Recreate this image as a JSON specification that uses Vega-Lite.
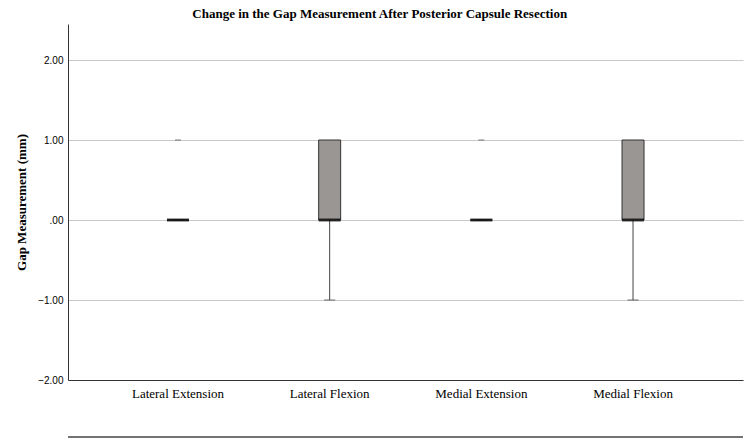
{
  "$schema": "https://vega.github.io/schema/vega-lite/v6.json",
  "width": 675,
  "height": 356,
  "autosize": "none",
  "padding": {"left": 68, "top": 24, "right": 7, "bottom": 61},
  "background": "white",
  "title": {
    "text": "Change in the Gap Measurement After Posterior Capsule Resection",
    "font": "Liberation Serif",
    "fontSize": 13,
    "fontWeight": "bold",
    "color": "#000000",
    "anchor": "middle",
    "frame": "bounds",
    "offset": 3
  },
  "config": {
    "view": {"stroke": null},
    "axis": {"labelColor": "#000000", "titleColor": "#000000"}
  },
  "datasets": {
    "boxes": [
      {"group": "Lateral Extension", "min": 0, "q1": 0, "median": 0, "q3": 0, "max": 0},
      {"group": "Lateral Flexion", "min": -1, "q1": 0, "median": 0, "q3": 1, "max": 1},
      {"group": "Medial Extension", "min": 0, "q1": 0, "median": 0, "q3": 0, "max": 0},
      {"group": "Medial Flexion", "min": -1, "q1": 0, "median": 0, "q3": 1, "max": 1}
    ],
    "outliers": [
      {"group": "Lateral Extension", "value": 1},
      {"group": "Medial Extension", "value": 1}
    ],
    "frame": [{"value": -2.7125}]
  },
  "layer": [
    {
      "data": {"name": "boxes"},
      "mark": {"type": "rule", "color": "#444444", "strokeWidth": 1},
      "encoding": {
        "x": {
          "field": "group", "type": "nominal", "sort": null,
          "scale": {"type": "band", "paddingInner": 0.5, "paddingOuter": 0.475},
          "axis": {
            "title": null, "labelAngle": 0, "ticks": false, "labelPadding": 7,
            "labelFont": "Liberation Serif", "labelFontSize": 13,
            "domainColor": "#333333", "domainWidth": 1, "grid": false
          }
        },
        "y": {
          "field": "min", "type": "quantitative",
          "scale": {"domain": [-2, 2.45], "nice": false, "zero": false},
          "axis": {
            "title": "Gap Measurement (mm)",
            "titleFont": "Liberation Serif", "titleFontSize": 13, "titleFontWeight": "bold",
            "titlePadding": 9,
            "values": [-2, -1, 0, 1, 2],
            "labelExpr": "datum.value == 0 ? '.00' : format(datum.value, '.2f')",
            "labelFont": "Liberation Sans", "labelFontSize": 10, "labelPadding": 5,
            "ticks": false, "domainColor": "#333333", "domainWidth": 1,
            "grid": true, "gridColor": "#c8c8c8", "gridWidth": 1
          }
        },
        "y2": {"field": "q1"}
      }
    },
    {
      "data": {"name": "boxes"},
      "mark": {"type": "tick", "color": "#333333", "thickness": 1, "size": 11, "orient": "horizontal"},
      "encoding": {
        "x": {"field": "group", "type": "nominal", "sort": null},
        "y": {"field": "min", "type": "quantitative"}
      }
    },
    {
      "data": {"name": "boxes"},
      "mark": {"type": "bar", "width": 22, "fill": "#9a9693", "stroke": "#333333", "strokeWidth": 1},
      "encoding": {
        "x": {"field": "group", "type": "nominal", "sort": null},
        "y": {"field": "q1", "type": "quantitative"},
        "y2": {"field": "q3"}
      }
    },
    {
      "data": {"name": "boxes"},
      "mark": {"type": "tick", "color": "#000000", "thickness": 3, "size": 22, "orient": "horizontal"},
      "encoding": {
        "x": {"field": "group", "type": "nominal", "sort": null},
        "y": {"field": "median", "type": "quantitative"}
      }
    },
    {
      "data": {"name": "outliers"},
      "mark": {"type": "tick", "color": "#444444", "thickness": 1, "size": 6, "orient": "horizontal"},
      "encoding": {
        "x": {"field": "group", "type": "nominal", "sort": null},
        "y": {"field": "value", "type": "quantitative"}
      }
    },
    {
      "data": {"name": "frame"},
      "mark": {"type": "rule", "color": "#444444", "strokeWidth": 1.5, "clip": false},
      "encoding": {
        "y": {"field": "value", "type": "quantitative"}
      }
    }
  ]
}
